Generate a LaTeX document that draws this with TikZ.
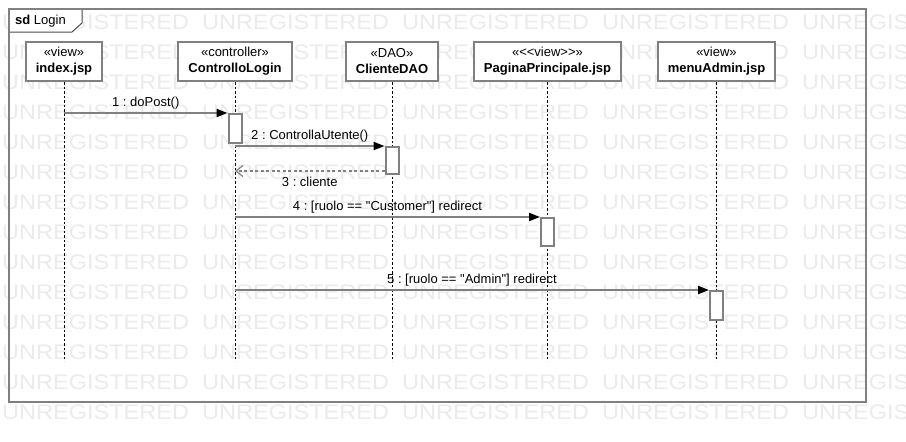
\documentclass[tikz,border=0pt]{standalone}
\usepackage{fontspec}
\newfontfamily\umlfont{Liberation Sans}
\newfontfamily\markfont{Liberation Sans}[FakeStretch=1.12]
\usetikzlibrary{arrows.meta, positioning}
\frenchspacing

\begin{document}
\begin{tikzpicture}[
        x=1pt, y=-1pt,
        font=\umlfont\fontsize{13}{16}\selectfont,
        watermark/.style={font=\markfont\fontsize{21}{21}\selectfont, text=black!8, anchor=west, inner sep=0pt},
        framebox/.style={draw=black!50, line width=2pt},
        tabline/.style={draw=black!70, line width=1pt, fill=white},
        headbox/.style={draw=black!50, line width=2pt, fill=white, align=center, minimum height=39pt, inner xsep=10pt, inner ysep=2pt},
        lifeline/.style={draw=black, line width=0.9pt, dash pattern=on 2.5pt off 2pt},
        actbox/.style={draw=black!50, line width=2pt, fill=white, minimum width=13pt, minimum height=#1, inner sep=0pt, anchor=north},
        msgcall/.style={draw=black!50, line width=2pt, -{Triangle[length=11pt, width=8pt, black]}},
        msgreturn/.style={draw=black!50, line width=1.5pt, dash pattern=on 3pt off 2.5pt, -{Straight Barb[length=7pt, width=11pt, line width=1.2pt]}},
        msglabel/.style={midway, yshift=#1, text=black, inner sep=0pt}
    ]

    \useasboundingbox (0,0) rectangle (906,442);
    \fill[white] (0,0) rectangle (906,442);

    % --- Watermark rows ---
    \foreach \row in {0,...,13}
      \foreach \col in {0,...,4}
        \node[watermark] (wm-\row-\col) at (2+200*\col, 22.5+30*\row) {UNREGISTERED};

    % --- Frame sd Login ---
    \filldraw[tabline] (9,9) -- (82,9) -- (82,23) -- (72,32) -- (9,32) -- cycle;
    \node[anchor=west, inner sep=0pt] (sdlabel) at (15,21) {\textbf{sd} Login};
    \draw[framebox] (9,9) rectangle (866,402);

    % --- Lifeline heads ---
    \node[headbox] (index) at (64, 61.5) {«view»\\\textbf{index.jsp}};
    \node[headbox] (ctrl) at (235, 61.5) {«controller»\\\textbf{ControlloLogin}};
    \node[headbox] (dao) at (392, 61.5) {«DAO»\\\textbf{ClienteDAO}};
    \node[headbox] (home) at (547.5, 61.5) {«<<view>>»\\\textbf{PaginaPrincipale.jsp}};
    \node[headbox] (admin) at (716.5, 61.5) {«view»\\\textbf{menuAdmin.jsp}};

    % Lifelines
    \coordinate (lifeend) at (0,361);
    \foreach \n in {index, ctrl, dao, home, admin}
      \draw[lifeline] (\n.south) -- (\n.south |- lifeend);

    % --- Activations ---
    \node[actbox=29pt] (ctrl-act) at (235, 113) {};
    \node[actbox=27pt] (dao-act) at (392, 146) {};
    \node[actbox=28pt] (home-act) at (547.5, 217) {};
    \node[actbox=29pt] (admin-act) at (716.5, 290) {};

    % --- Messages ---
    \draw[msgcall] (index |- ctrl-act.north west) -- (ctrl-act.north west)
        node[msglabel=10pt] {1 : doPost()};
    \draw[msgcall] (ctrl |- dao-act.north west) -- (dao-act.north west)
        node[msglabel=10pt] {2 : ControllaUtente()};
    \coordinate (ret3) at ([yshift=4pt]dao-act.south west);
    \draw[msgreturn] (ret3) -- (ctrl |- ret3)
        node[msglabel=-11pt] {3 : cliente};
    \draw[msgcall] (ctrl |- home-act.north west) -- (home-act.north west)
        node[msglabel=10pt] {4 : [ruolo == "Customer"] redirect};
    \draw[msgcall] (ctrl |- admin-act.north west) -- (admin-act.north west)
        node[msglabel=10pt] {5 : [ruolo == "Admin"] redirect};

\end{tikzpicture}
\end{document}
